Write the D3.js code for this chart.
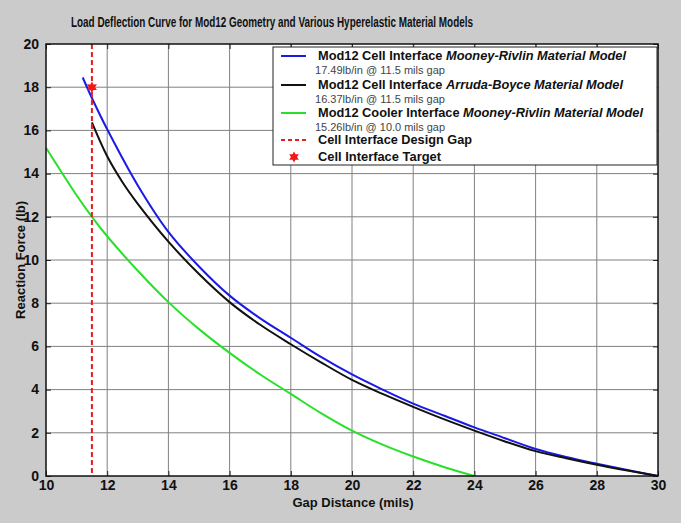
<!DOCTYPE html>
<html>
<head>
<meta charset="utf-8">
<script src="https://cdn.jsdelivr.net/npm/d3@7"></script>
<style>
  body { margin: 0; background: #cbcbcb; }
  svg { display: block; font-family: "Liberation Sans", Arial, sans-serif; }
</style>
</head>
<body>
<div id="chart"></div>
<script>
const title = "Load Deflection Curve for Mod12 Geometry and Various Hyperelastic Material Models";
const xLabel = "Gap Distance (mils)";
const yLabel = "Reaction Force (lb)";
const xTicks = [10, 12, 14, 16, 18, 20, 22, 24, 26, 28, 30];
const yTicks = [0, 2, 4, 6, 8, 10, 12, 14, 16, 18, 20];

const mooneyCell = [
  [11.2, 18.45], [11.5, 17.5], [12, 16.05], [13, 13.45], [14, 11.3], [15, 9.7],
  [16, 8.35], [17, 7.3], [18, 6.4], [19, 5.5], [20, 4.7], [21, 4.0], [22, 3.35],
  [23, 2.8], [24, 2.25], [25, 1.75], [26, 1.25], [27, 0.88], [28, 0.57], [29, 0.28], [30, 0]
];
const arrudaCell = [
  [11.5, 16.37], [12, 14.8], [12.5, 13.6], [13, 12.6], [14, 10.85], [15, 9.35], [16, 8.05],
  [17, 7.0], [18, 6.1], [19, 5.25], [20, 4.45], [21, 3.8], [22, 3.2], [23, 2.63],
  [24, 2.1], [25, 1.6], [26, 1.15], [27, 0.82], [28, 0.52], [29, 0.25], [30, 0]
];
const mooneyCooler = [
  [10, 15.2], [11, 13.0], [11.5, 12.0], [12, 11.1], [13, 9.5], [14, 8.05],
  [15, 6.8], [16, 5.7], [17, 4.7], [18, 3.8], [19, 2.9], [20, 2.1], [21, 1.45],
  [22, 0.9], [23, 0.42], [24, 0]
];
const designGap = 11.5;
const target = [11.5, 18];

const series = [
  {name: "mooneyCell", data: mooneyCell, color: "#1a1ae6"},
  {name: "arrudaCell", data: arrudaCell, color: "#111"},
  {name: "mooneyCooler", data: mooneyCooler, color: "#28e028"}
];

const legendRows = [
  {kind: "line", color: "#1a1ae6", parts: ["Mod12 Cell Interface ", "Mooney-Rivlin Material Model"], sub: "17.49lb/in @ 11.5 mils gap", w: 308},
  {kind: "line", color: "#111", parts: ["Mod12 Cell Interface ", "Arruda-Boyce Material Model"], sub: "16.37lb/in @ 11.5 mils gap", w: 305},
  {kind: "line", color: "#28e028", parts: ["Mod12 Cooler Interface ", "Mooney-Rivlin Material Model"], sub: "15.26lb/in @ 10.0 mils gap", w: 325},
  {kind: "dash", color: "#e02020", parts: ["Cell Interface Design Gap"], w: 154},
  {kind: "star", color: "#f01818", parts: ["Cell Interface Target"], w: 123}
];

const W = 681, H = 523;
const margin = {top: 44, right: 23, bottom: 47, left: 46};
const width = W - margin.left - margin.right, height = H - margin.top - margin.bottom;

const root = d3.select("#chart").append("svg").attr("width", W).attr("height", H);
root.append("rect").attr("width", W).attr("height", H).attr("fill", "#cbcbcb");

root.append("text").attr("x", 272).attr("y", 27).attr("text-anchor", "middle")
  .attr("font-size", 14).attr("font-weight", "bold").attr("fill", "#111")
  .attr("textLength", 402).attr("lengthAdjust", "spacingAndGlyphs").text(title);

const svg = root.append("g").attr("transform", `translate(${margin.left},${margin.top})`);

const x = d3.scaleLinear().domain([10, 30]).range([0, width]);
const y = d3.scaleLinear().domain([0, 20]).range([height, 0]);

svg.append("rect").attr("width", width).attr("height", height).attr("fill", "#fff");

// grid
svg.append("g").selectAll("line").data(xTicks.slice(1, -1)).join("line")
  .attr("x1", d => x(d)).attr("x2", d => x(d)).attr("y1", 0).attr("y2", height)
  .attr("stroke", "#808080").attr("stroke-width", 1);
svg.append("g").selectAll("line").data(yTicks.slice(1, -1)).join("line")
  .attr("y1", d => y(d)).attr("y2", d => y(d)).attr("x1", 0).attr("x2", width)
  .attr("stroke", "#808080").attr("stroke-width", 1);

// axes with inward ticks
const xAx = svg.append("g").attr("transform", `translate(0,${height})`)
  .call(d3.axisBottom(x).tickValues(xTicks).tickSizeInner(-5).tickSizeOuter(0).tickPadding(4));
svg.append("g").call(d3.axisTop(x).tickValues(xTicks).tickSizeInner(-5).tickSizeOuter(0).tickFormat(""));
const yAx = svg.append("g")
  .call(d3.axisLeft(y).tickValues(yTicks).tickSizeInner(-5).tickSizeOuter(0).tickPadding(7));
svg.append("g").attr("transform", `translate(${width},0)`)
  .call(d3.axisRight(y).tickValues(yTicks).tickSizeInner(-5).tickSizeOuter(0).tickFormat(""));
svg.selectAll(".domain").remove();
svg.selectAll(".tick line").attr("stroke", "#222");
svg.selectAll(".tick text").attr("font-size", 14).attr("font-weight", "bold").attr("fill", "#111")
  .attr("font-family", "'Liberation Sans', Arial, sans-serif");
yAx.selectAll(".tick text").attr("dy", "0.3em");

// curves
const line = d3.line().x(d => x(d[0])).y(d => y(d[1])).curve(d3.curveCatmullRom.alpha(0.5));
svg.append("g").selectAll("path").data(series).join("path")
  .attr("fill", "none").attr("stroke", d => d.color).attr("stroke-width", 2)
  .attr("d", d => line(d.data));

// design gap
svg.append("line").attr("x1", x(designGap)).attr("x2", x(designGap)).attr("y1", 0).attr("y2", height)
  .attr("stroke", "#e02020").attr("stroke-width", 2).attr("stroke-dasharray", "5,3");

// six-point star symbol
const star6 = {
  draw(ctx, size) {
    const r = Math.sqrt(size) * 0.75, ri = r * 0.55;
    for (let i = 0; i < 12; i++) {
      const a = -Math.PI / 2 + i * Math.PI / 6, rr = i % 2 ? ri : r;
      i ? ctx.lineTo(rr * Math.cos(a), rr * Math.sin(a)) : ctx.moveTo(rr * Math.cos(a), rr * Math.sin(a));
    }
    ctx.closePath();
  }
};
svg.append("path").attr("d", d3.symbol(star6, 60)())
  .attr("transform", `translate(${x(target[0])},${y(target[1])})`).attr("fill", "#f01818");

// plot border
svg.append("rect").attr("width", width).attr("height", height).attr("fill", "none")
  .attr("stroke", "#111").attr("stroke-width", 1.5);

// axis labels
root.append("text").attr("x", 353).attr("y", 507).attr("text-anchor", "middle")
  .attr("font-size", 12).attr("font-weight", "bold").attr("fill", "#111")
  .attr("textLength", 121).attr("lengthAdjust", "spacingAndGlyphs").text(xLabel);
root.append("text").attr("transform", "translate(25,260) rotate(-90)").attr("text-anchor", "middle")
  .attr("font-size", 12).attr("font-weight", "bold").attr("fill", "#111")
  .attr("textLength", 118).attr("lengthAdjust", "spacingAndGlyphs").text(yLabel);

// legend
const lg = root.append("g").attr("transform", "translate(273,47)");
lg.append("rect").attr("width", 384).attr("height", 118).attr("fill", "#fff")
  .attr("stroke", "#222").attr("stroke-width", 1);
const rowY = [9, 38, 66, 93, 110];
legendRows.forEach((r, i) => {
  const g = lg.append("g").attr("transform", `translate(0,${rowY[i]})`);
  if (r.kind === "line") {
    g.append("line").attr("x1", 8).attr("x2", 33).attr("stroke", r.color).attr("stroke-width", 2);
  } else if (r.kind === "dash") {
    g.append("line").attr("x1", 8).attr("x2", 33).attr("stroke", r.color).attr("stroke-width", 2)
      .attr("stroke-dasharray", "4,3");
  } else {
    g.append("path").attr("d", d3.symbol(star6, 55)()).attr("transform", "translate(21,0)").attr("fill", r.color);
  }
  const t = g.append("text").attr("x", 45).attr("dy", "0.35em").attr("font-size", 12.5)
    .attr("font-weight", "bold").attr("fill", "#111")
    .attr("textLength", r.w).attr("lengthAdjust", "spacingAndGlyphs");
  t.append("tspan").text(r.parts[0]);
  if (r.parts[1]) t.append("tspan").attr("font-style", "italic").text(r.parts[1]);
  if (r.sub) {
    g.append("text").attr("x", 42).attr("y", 14).attr("dy", "0.35em").attr("font-size", 10.5)
      .attr("fill", "#444").attr("textLength", 130).attr("lengthAdjust", "spacingAndGlyphs").text(r.sub);
  }
});
</script>
</body>
</html>
